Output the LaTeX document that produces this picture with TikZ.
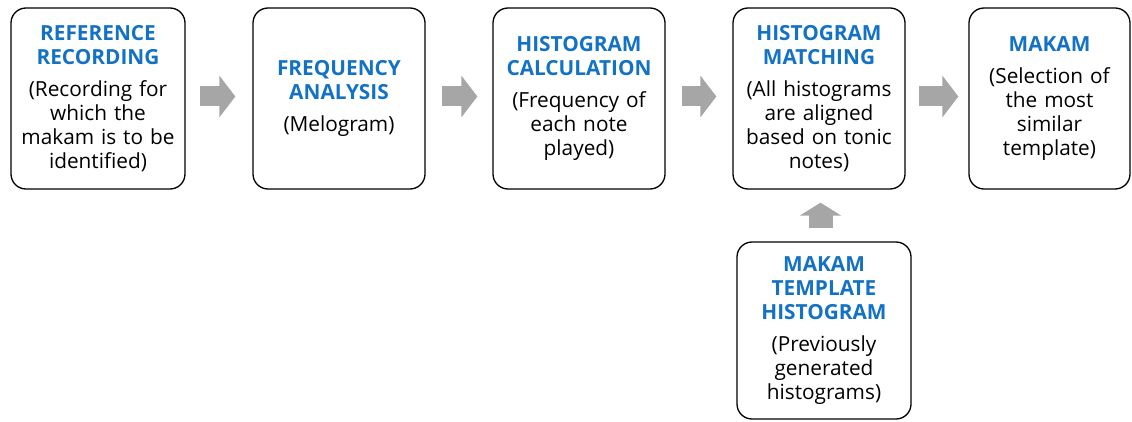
\documentclass[tikz,border=0pt]{standalone}
\usepackage{fontspec}
\setmainfont{Open Sans}
\usetikzlibrary{arrows.meta}
\definecolor{mblue}{RGB}{20,114,196}
\definecolor{agray}{RGB}{166,166,166}
\newcommand{\ttl}[1]{\textcolor{mblue}{\bfseries #1}}
\tikzset{
  box/.style={draw=black, line width=1.3pt, rounded corners=15pt, fill=white,
    align=center, inner sep=0pt,
    font=\fontsize{20.8}{24}\selectfont},
  harrow/.style={draw=agray, line width=20pt,
    -{Triangle[length=16pt,width=41pt]}, shorten >=0pt},
  varrow/.style={draw=agray, line width=24pt,
    -{Triangle[length=13pt,width=41pt]}},
}
\begin{document}
\begin{tikzpicture}[x=1pt,y=1pt]
\useasboundingbox (0,0) rectangle (1132,-422);
\node[box, minimum width=174pt, minimum height=181pt, text width=170pt] (b1) at (98,-98.5)
  {\ttl{REFERENCE}\\\ttl{RECORDING}\\[8pt](Recording for\\which the\\makam is to be\\identified)};
\node[box, minimum width=172pt, minimum height=181pt, text width=168pt] (b2) at (339,-98.5)
  {\ttl{FREQUENCY}\\\ttl{ANALYSIS}\\[8pt](Melogram)};
\node[box, minimum width=172pt, minimum height=181pt, text width=168pt] (b3) at (579,-98.5)
  {\ttl{HISTOGRAM}\\\ttl{CALCULATION}\\[8pt](Frequency of\\each note\\played)};
\node[box, minimum width=172pt, minimum height=181pt, text width=168pt] (b4) at (819,-98.5)
  {\ttl{HISTOGRAM}\\\ttl{MATCHING}\\[8pt](All histograms\\are aligned\\based on tonic\\notes)};
\node[box, minimum width=161pt, minimum height=181pt, text width=157pt] (b5) at (1049.5,-98.5)
  {\ttl{MAKAM}\\[8pt](Selection of\\the most\\similar\\template)};
\node[box, minimum width=174pt, minimum height=177pt, text width=170pt] (b6) at (824,-330.5)
  {\ttl{MAKAM}\\\ttl{TEMPLATE}\\\ttl{HISTOGRAM}\\[8pt](Previously\\generated\\histograms)};
\draw[harrow] ([xshift=14pt,yshift=2pt]b1.east) -- ([xshift=-17pt,yshift=2pt]b2.west);
\draw[harrow] ([xshift=16pt,yshift=2pt]b2.east) -- ([xshift=-15pt,yshift=2pt]b3.west);
\draw[harrow] ([xshift=16pt,yshift=2pt]b3.east) -- ([xshift=-16pt,yshift=2pt]b4.west);
\draw[harrow] ([xshift=13pt,yshift=2pt]b4.east) -- ([xshift=-10pt,yshift=2pt]b5.west);
\draw[varrow] ([xshift=-3.5pt,yshift=13pt]b6.north) -- ([xshift=1.5pt,yshift=-13pt]b4.south);
\end{tikzpicture}
\end{document}
